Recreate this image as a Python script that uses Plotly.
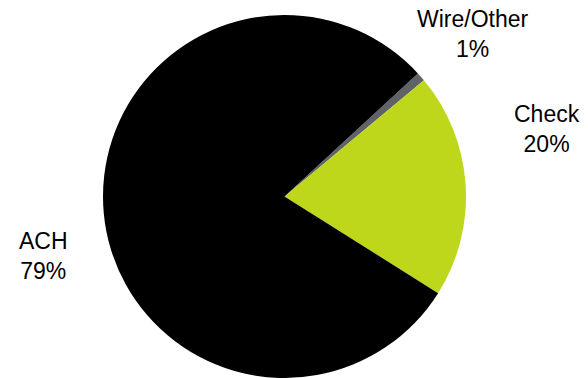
import plotly.graph_objects as go

labels = ["Wire/Other", "Check", "ACH"]
values = [0.8, 20.0, 79.2]
colors = ["#5f6266", "#bfd71a", "#000000"]
# label anchor positions (paper coords)
label_x = [0.832, 0.962, 0.0773]
label_y = [0.948, 0.686, 0.336]

total = sum(values)
fig = go.Figure(go.Pie(
    labels=labels, values=values, sort=False, direction="clockwise",
    rotation=47.3, marker=dict(colors=colors, line=dict(width=0)),
    textinfo="none", hoverinfo="label+percent", showlegend=False,
))
for lab, v, x, y in zip(labels, values, label_x, label_y):
    fig.add_annotation(
        text=f"{lab}<br>{round(100 * v / total)}%", x=x, y=y,
        xref="paper", yref="paper", showarrow=False,
        xanchor="center", yanchor="middle",
        font=dict(family="Liberation Sans, Arial, sans-serif", size=23, color="#000000"),
    )
fig.update_layout(
    width=588, height=378, margin=dict(l=0, r=19, t=15, b=0),
    paper_bgcolor="white", plot_bgcolor="white",
)
fig.write_html("out.html")
